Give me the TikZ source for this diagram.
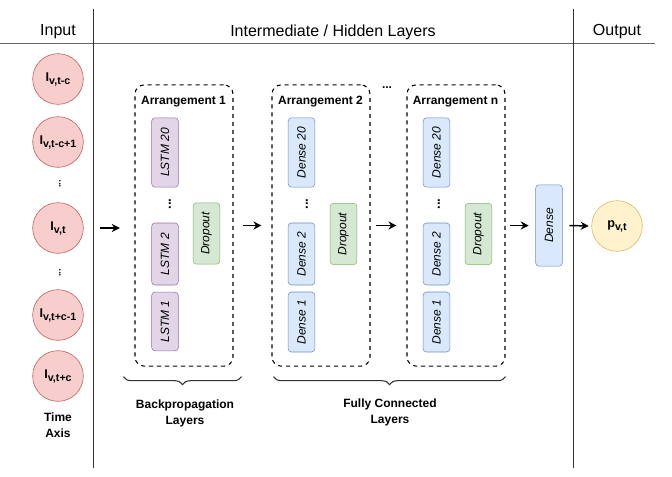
\documentclass[tikz,border=0pt]{standalone}
\usepackage{fontspec}
\setmainfont{Liberation Sans}
\usetikzlibrary{
  arrows.meta,
  decorations.pathreplacing
}
\definecolor{redfill}{HTML}{F8CECC}
\definecolor{redline}{HTML}{B85450}
\definecolor{purpfill}{HTML}{E1D5E7}
\definecolor{purpline}{HTML}{9673A6}
\definecolor{bluefill}{HTML}{DAE8FC}
\definecolor{blueline}{HTML}{6C8EBF}
\definecolor{greenfill}{HTML}{D5E8D4}
\definecolor{greenline}{HTML}{82B366}
\definecolor{yelfill}{HTML}{FFF2CC}
\definecolor{yelline}{HTML}{D6B656}
\newcommand{\varsub}[2]{#1\raisebox{-2.2pt}{\fontsize{8}{9}\selectfont #2}}

\tikzset{
  head/.style={font=\fontsize{12}{14}\selectfont},
  inp/.style={circle, draw=redline, fill=redfill, minimum size=38pt, inner sep=0pt,
    font=\bfseries\fontsize{9.5}{10}\selectfont},
  outp/.style={inp, draw=yelline, fill=yelfill},
  layer/.style={rectangle, rounded corners=2.5pt, rotate=90, minimum height=20pt,
    inner sep=1pt, font=\itshape\fontsize{9}{10}\selectfont},
  lstm/.style={layer, draw=purpline, fill=purpfill},
  dense/.style={layer, draw=blueline, fill=bluefill},
  drop/.style={layer, draw=greenline, fill=greenfill, minimum width=46pt},
  arrange/.style={draw, dashed, rounded corners=7pt, minimum width=73.5pt,
    minimum height=211pt, line width=0.8pt},
  ttl/.style={font=\bfseries\fontsize{9}{10}\selectfont},
  captext/.style={align=center, font=\bfseries\fontsize{9}{12}\selectfont},
  vdots/.style={rotate=90, inner sep=0pt, font=\bfseries\fontsize{10}{10}\selectfont},
  arr/.style={-{Stealth[length=6pt,width=6pt]}, line width=1.1pt},
  brace/.style={decorate, decoration={brace, mirror, amplitude=6pt}, black!80, line width=0.8pt}
}

\begin{document}
\begin{tikzpicture}[x=0.75pt, y=-0.75pt]
  \useasboundingbox (0,0) rectangle (672,476);

  % header
  \node[head] (hIn) at (58,32) {Input};
  \node[head] (hMid) at (333,32) {Intermediate / Hidden Layers};
  \node[head] (hOut) at (617,32) {Output};
  \draw[black!60] (0,43) -- (655,43);
  \draw[black!80] (93,9) -- (93,468);
  \draw[black!80] (573,9) -- (573,468);

  % input
  \node[inp] (tc) at (58,79) {\varsub{I}{v,t-c}};
  \node[inp] (tcA) at (58,142) {\varsub{I}{v,t-c+1}};
  \node[vdots, font=\bfseries\fontsize{7}{7}\selectfont] (dIn1) at (60,184) {...};
  \node[inp] (vt) at (58,228) {\varsub{I}{v,t}};
  \node[vdots, font=\bfseries\fontsize{7}{7}\selectfont] (dIn2) at (60,273) {...};
  \node[inp] (tcB) at (58,315) {\varsub{I}{v,t+c-1}};
  \node[inp] (tcC) at (58,376) {\varsub{I}{v,t+c}};
  \node[captext] (tAx) at (58,425) {Time\\Axis};

  % arrangement 1
  \node[arrange] (arrA) at (184,225.5) {};
  \node[ttl] (tA) at (183.5,102) {Arrangement 1};
  \node[lstm, minimum width=52pt] (lstmC) at (165,152.5) {LSTM 20};
  \node[vdots] (dA) at (170,204) {...};
  \node[lstm, minimum width=46.5pt] (lstmB) at (165,254) {LSTM 2};
  \node[lstm, minimum width=44pt] (lstmA) at (165,321.5) {LSTM 1};
  \node[drop] (dropA) at (206.5,233.5) {Dropout};

  % arrangement 2
  \node[arrange] (arrB) at (321,225.5) {};
  \node[ttl] (tB) at (320.5,102) {Arrangement 2};
  \node[dense, minimum width=52pt] (denBC) at (301.5,152.5) {Dense 20};
  \node[vdots] (dB) at (307,204) {...};
  \node[dense, minimum width=46.5pt] (denBB) at (301.5,254) {Dense 2};
  \node[dense, minimum width=45pt] (denBA) at (301.5,322) {Dense 1};
  \node[drop] (dropB) at (343.5,234) {Dropout};

  \node[ttl] (gap) at (387,88) {...};

  % arrangement n
  \node[arrange] (arrN) at (456,225.5) {};
  \node[ttl] (tN) at (455.5,102) {Arrangement n};
  \node[dense, minimum width=52pt] (denNC) at (436.5,152.5) {Dense 20};
  \node[vdots] (dN) at (439,204) {...};
  \node[dense, minimum width=46.5pt] (denNB) at (436.5,254) {Dense 2};
  \node[dense, minimum width=45pt] (denNA) at (436.5,322) {Dense 1};
  \node[drop] (dropN) at (478.5,234) {Dropout};

  % output
  \node[dense, minimum width=61pt] (fin) at (549,225.5) {Dense};
  \node[outp] (pvt) at (617,226) {\varsub{p}{v,t}};

  % arrows
  \draw[arr] ([xshift=12pt]vt.east) -- ([xshift=-11pt]vt.east -| arrA.west);
  \draw[arr] ([xshift=7pt]arrA.east) -- ([xshift=-7.5pt]arrB.west);
  \draw[arr] ([xshift=4pt]arrB.east) -- ([xshift=-7.5pt]arrN.west);
  \draw[arr] ([xshift=3pt]arrN.east) -- ([xshift=-5pt]fin.north);
  \draw[arr] ([xshift=5pt]fin.south) -- ([xshift=-2pt]pvt.west);

  % braces
  \draw[brace] ([shift={(-11,10)}]arrA.south west) -- ([shift={(8,10)}]arrA.south east);
  \draw[brace] ([shift={(2,10)}]arrB.south west) -- ([shift={(0,10)}]arrN.south east);
  \node[captext] (bpL) at (185,413) {Backpropagation\\Layers};
  \node[captext] (fcL) at (390,412) {Fully Connected\\Layers};
\end{tikzpicture}
\end{document}
